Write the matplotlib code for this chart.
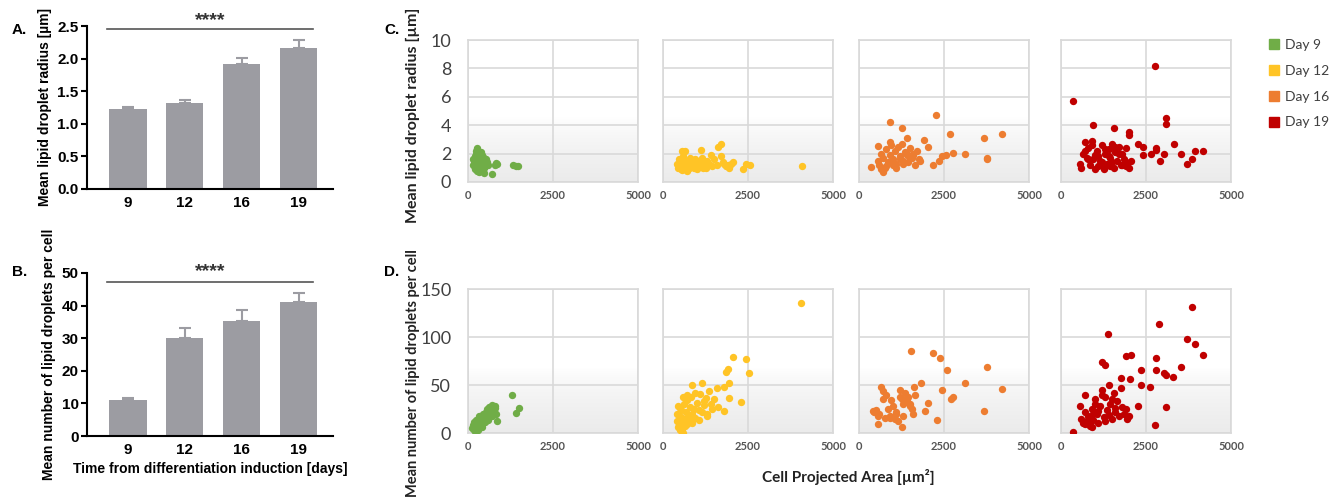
import numpy as np
import matplotlib.pyplot as plt
from matplotlib.patches import Patch
from matplotlib.colors import LinearSegmentedColormap

W, H = 1337, 500

# bar panels A / B
days = ['9', '12', '16', '19']
radius_mean = [1.22, 1.32, 1.91, 2.16]
radius_err = [0.04, 0.05, 0.10, 0.12]
count_mean = [11.0, 30.1, 35.3, 41.0]
count_err = [0.8, 2.9, 3.3, 3.0]

# scatter panels C / D: cell projected area vs radius / count
d9_area_r = [150, 180, 200, 220, 250, 260, 280, 300, 320, 340, 350, 370, 390, 400, 420, 450, 480, 500, 520,
             200, 240, 270, 300, 330, 360, 380, 410, 440, 470, 160, 190, 230, 260, 290, 310, 350, 380, 420, 460,
             500, 550, 600, 250, 300, 350, 270, 330, 700, 780, 820, 860, 1330, 1400, 1480]
d9_radius = [1.2, 1.5, 0.9, 1.8, 2.3, 1.1, 2.1, 1.6, 1.3, 2.0, 0.8, 1.7, 1.4, 1.1, 1.9, 1.5, 1.0, 1.3, 1.6,
             1.0, 2.2, 1.4, 1.9, 0.7, 1.2, 1.8, 0.9, 1.4, 1.7, 1.6, 1.3, 2.0, 0.8, 1.2, 1.5, 1.0, 2.1, 1.6, 0.6,
             1.1, 1.4, 1.2, 1.7, 1.0, 1.5, 2.4, 1.8, 0.55, 1.2, 1.35, 1.3, 1.2, 1.15, 1.1]
d9_area_n = [120, 150, 170, 200, 220, 240, 260, 280, 300, 320, 340, 360, 380, 400, 420, 440, 460, 480, 500, 520,
             540, 560, 580, 600, 620, 650, 680, 700, 720, 750, 780, 800, 820, 850, 200, 250, 300, 350, 400, 450,
             500, 550, 180, 230, 280, 330, 380, 430, 1300, 1420, 1490]
d9_count = [5, 8, 3, 10, 6, 12, 4, 9, 14, 7, 11, 16, 8, 13, 18, 10, 15, 20, 12, 22,
            17, 25, 14, 19, 27, 21, 24, 29, 18, 23, 28, 26, 20, 13, 2, 5, 7, 9, 6, 15,
            11, 16, 11, 14, 3, 18, 10, 20, 40, 21, 26]

d12_area_r = [420, 450, 480, 520, 550, 580, 600, 640, 680, 700, 720, 760, 800, 830, 850, 900, 950, 980, 1000, 1050,
              1080, 1100, 1150, 1200, 1250, 1300, 1350, 1400, 1450, 1500, 1600, 1700, 1750, 1800, 1850, 1900, 1950,
              2000, 2050, 500, 620, 880, 1020, 1180, 1280, 560, 740, 940, 1120, 1620, 1700, 1120, 550, 650,
              2350, 2450, 2550, 4100]
d12_radius = [1.3, 1.0, 1.6, 0.9, 1.4, 1.2, 1.8, 1.1, 1.5, 0.8, 1.3, 1.0, 1.7, 1.2, 1.4, 1.0, 1.6, 1.3, 0.9, 1.5,
              1.1, 1.4, 1.7, 1.2, 1.0, 1.5, 1.3, 1.9, 1.1, 1.6, 1.2, 1.8, 1.4, 1.3, 1.1, 1.2, 1.0,
              1.3, 1.4, 1.1, 1.0, 1.2, 1.1, 1.0, 1.3, 0.85, 0.95, 1.25, 1.35, 2.45, 2.65, 2.25, 2.2, 2.2,
              0.9, 1.3, 1.2, 1.1]
d12_area_n = [400, 420, 450, 480, 500, 520, 540, 560, 580, 600, 620, 650, 680, 700, 720, 750, 780, 800, 830, 860,
              900, 950, 1000, 1050, 1100, 1150, 1200, 1250, 1300, 1350, 1400, 1450, 1500, 450, 550, 650, 750, 850,
              950, 1050, 1200, 1300, 500, 600, 700,
              850, 1150, 1600, 1800, 1950, 1630, 1780, 1950, 2280, 1850, 1900, 2050, 2450, 2530, 4050]
d12_count = [20, 13, 28, 8, 3, 17, 24, 5, 11, 0, 30, 15, 22, 9, 34, 18, 27, 12, 38, 20,
             25, 16, 31, 14, 41, 22, 29, 36, 18, 44, 30, 25, 35, 6, 2, 7, 14, 10,
             42, 24, 33, 20, 26, 37, 40,
             50, 52, 47, 48, 52, 27, 23, 36, 32, 64, 67, 79, 77, 62, 135]

d16_area_r = [2270, 920, 1260, 2680, 3690, 4200, 1410, 1925, 2020, 550, 3110, 2760, 2560, 2440, 2365, 2170, 3750,
              3750, 360, 700,
              550, 600, 650, 700, 750, 800, 850, 900, 950, 1000, 1050, 1100, 1150, 1200, 1250, 1300, 1350, 1400,
              1450, 1500, 1550, 1600, 1650, 1700, 1750, 1800, 650, 800, 1000, 1200, 1400, 1600, 900, 1100, 1300, 1500]
d16_radius = [4.7, 4.2, 3.8, 3.4, 3.1, 3.4, 3.1, 2.95, 2.5, 2.55, 2.0, 2.05, 1.9, 1.85, 1.5, 1.2, 1.7,
              1.6, 1.05, 0.7,
              1.5, 1.2, 2.0, 1.7, 1.0, 2.3, 1.4, 1.9, 2.6, 1.6, 2.2, 1.3, 2.5, 1.8, 2.7, 1.5, 2.1, 2.0,
              1.4, 2.4, 1.7, 1.9, 1.2, 2.2, 1.6, 1.5, 0.9, 1.1, 1.2, 1.6, 1.9, 2.0, 2.8, 1.0, 1.3, 1.7]
d16_area_n = [1515, 2170, 2385, 2590, 3750, 3110, 4220, 2430, 2755, 2700, 2020, 3690, 1935, 2290, 1830, 1630, 570, 1260,
              400, 450, 500, 550, 600, 650, 700, 750, 800, 850, 900, 950, 1000, 1050, 1100, 1150, 1200, 1250,
              1300, 1350, 1400, 1450, 1500, 1550, 1600, 1650, 700, 900, 1100, 1300, 1500, 1200, 1400]
d16_count = [85, 83, 78, 66, 69, 52, 46, 45, 38, 35, 31, 23, 23, 14, 52, 48, 9, 6,
             23, 22, 24, 18, 20, 48, 44, 16, 40, 25, 18, 34, 28, 15, 20, 12, 37, 35,
             30, 42, 33, 38, 28, 25, 20, 40, 35, 16, 22, 18, 30, 45, 32]

d19_area_r = [2775, 345, 3090, 3080, 940, 1570, 2000, 2000, 3310, 2275, 2400, 2785, 2785, 3950, 4175, 3520, 2645,
              2400, 3030, 3850, 3720, 2900, 1910,
              550, 600, 650, 700, 750, 800, 850, 900, 950, 1000, 1050, 1100, 1150, 1200, 1250, 1300, 1350, 1400,
              1450, 1500, 1550, 1600, 1650, 1700, 1750, 1800, 1850, 1900, 1950, 2000, 2050,
              700, 900, 1100, 1300, 1500, 1700, 1900, 800, 1000, 1200, 1400, 1600, 1800, 1250, 1450]
d19_radius = [8.2, 5.7, 4.5, 4.1, 4.0, 3.8, 3.5, 3.3, 2.65, 2.65, 2.5, 2.4, 2.25, 2.2, 2.2, 2.0, 1.95,
              1.9, 1.95, 1.65, 1.3, 1.5, 2.4,
              1.3, 1.0, 2.0, 2.8, 1.7, 2.4, 1.2, 2.9, 1.6, 1.9, 2.2, 1.1, 1.5, 2.6, 0.9, 2.0, 1.3, 2.3,
              1.7, 2.7, 1.0, 2.1, 1.5, 2.5, 1.2, 2.0, 1.6, 1.4, 1.3, 1.0, 1.5,
              2.2, 2.6, 1.8, 2.3, 1.4, 2.0, 1.1, 1.6, 0.9, 1.4, 1.8, 2.5, 1.2, 1.0, 1.1]
d19_area_n = [3845, 2890, 1370, 3705, 3930, 4175, 1900, 2060, 2795, 3520, 2795, 3040, 3080, 2365, 3305, 1210, 1300,
              2625, 2365, 3090, 2775, 345, 2265, 2020, 1765, 705, 550,
              600, 650, 700, 750, 800, 850, 900, 950, 1000, 1050, 1100, 1150, 1200, 1250, 1300, 1350, 1400, 1450,
              1500, 1550, 1600, 1650, 1700, 1750, 1800, 1850, 1900, 1950, 2000,
              700, 800, 900, 1000, 1100, 1200, 1300, 1400, 1500, 1600, 750, 850, 950]
d19_count = [131, 114, 103, 98, 93, 81, 80, 81, 78, 69, 66, 62, 60, 66, 58, 74, 71,
             48, 50, 27, 8, 1, 28, 56, 57, 40, 28,
             15, 10, 22, 12, 18, 8, 25, 14, 35, 20, 10, 28, 45, 17, 38, 24, 50, 30,
             15, 42, 22, 33, 18, 47, 27, 20, 25, 15, 18,
             9, 14, 6, 30, 23, 40, 13, 19, 35, 26, 11, 7, 20]

day_labels = ['Day 9', 'Day 12', 'Day 16', 'Day 19']
day_colors = ['#70ad47', '#ffc426', '#ed7d31', '#c00000']

area_r = [d9_area_r, d12_area_r, d16_area_r, d19_area_r]
radius = [d9_radius, d12_radius, d16_radius, d19_radius]
area_n = [d9_area_n, d12_area_n, d16_area_n, d19_area_n]
count = [d9_count, d12_count, d16_count, d19_count]

bar_color = '#9c9ca2'
arial = 'Liberation Sans'
calibri = 'Lato'

fig = plt.figure(figsize=(W / 100, H / 100), dpi=100)


def px_axes(left, top, right, bottom):
    return fig.add_axes([left / W, 1 - bottom / H, (right - left) / W, (bottom - top) / H])


def bar_panel(ax, means, errs, ymax, yticks, fmt, sig_y, star_y):
    x = np.arange(len(days))
    ax.bar(x, means, width=0.65, color=bar_color, zorder=2)
    ax.errorbar(x, means, yerr=[np.zeros(len(errs)), errs], fmt='none', ecolor=bar_color,
                elinewidth=1.5, capsize=4.5, capthick=1.5, zorder=1)
    ax.set_xlim(-0.72, 3.6)
    ax.set_ylim(0, ymax)
    ax.set_xticks(x)
    ax.set_xticklabels(days)
    ax.set_yticks(yticks)
    ax.set_yticklabels([fmt.format(v) for v in yticks])
    for s in ['top', 'right']:
        ax.spines[s].set_visible(False)
    for s in ['left', 'bottom']:
        ax.spines[s].set_linewidth(1.5)
    ax.tick_params(axis='y', length=4, width=1.5, labelsize=11, pad=2)
    ax.tick_params(axis='x', length=0, labelsize=11, pad=5)
    for lab in ax.get_xticklabels() + ax.get_yticklabels():
        lab.set_fontweight('bold')
        lab.set_family(arial)
    ax.plot([-0.37, 3.25], [sig_y, sig_y], color='#555555', lw=1.2, clip_on=False)
    ax.text(1.44, star_y, '****', ha='center', va='center', fontsize=14, fontweight='bold',
            family=arial, color='#333333', clip_on=False)


axA = px_axes(87, 26, 333, 189)
bar_panel(axA, radius_mean, radius_err, 2.5, np.arange(0, 2.51, 0.5), '{:.1f}', 2.46, 2.58)
axA.set_ylabel('Mean lipid droplet radius [µm]', fontsize=10, fontweight='bold', family=arial, labelpad=4)

axB = px_axes(87, 273, 333, 436)
bar_panel(axB, count_mean, count_err, 50, np.arange(0, 51, 10), '{:.0f}', 47.2, 50.3)
axB.set_ylabel('Mean number of lipid droplets per cell', fontsize=10, fontweight='bold', family=arial, labelpad=4)
axB.set_xlabel('Time from differentiation induction [days]', fontsize=10, fontweight='bold', family=arial,
               labelpad=4)

# background gradient like a spreadsheet chart area
frac = np.linspace(0, 1, 256).reshape(-1, 1)
shade = np.clip((0.45 - frac) / 0.45, 0, 1) ** 0.7
bg_cmap = LinearSegmentedColormap.from_list('bg', ['#ffffff', '#ebebeb'])

lefts = [468, 663, 859, 1061]
rows = [(40, 182, radius, area_r, 10, [0, 2, 4, 6, 8, 10]),
        (289, 433, count, area_n, 150, [0, 50, 100, 150])]

for top, bottom, vals, areas, ymax, yticks in rows:
    for i, left in enumerate(lefts):
        ax = px_axes(left, top, left + 170, bottom)
        ax.imshow(shade, extent=[0, 5000, 0, ymax], aspect='auto', origin='lower', cmap=bg_cmap,
                  vmin=0, vmax=1, zorder=0)
        ax.scatter(areas[i], vals[i], s=28, color=day_colors[i], linewidths=0, zorder=3)
        ax.set_xlim(0, 5000)
        ax.set_ylim(0, ymax)
        ax.set_xticks([0, 2500, 5000])
        ax.set_yticks(yticks)
        ax.grid(color='#d9d9d9', lw=1.2)
        for s in ax.spines.values():
            s.set_color('#d9d9d9')
            s.set_linewidth(1.2)
        ax.tick_params(length=0)
        ax.tick_params(axis='x', labelsize=8, labelcolor='#555555', pad=6)
        ax.tick_params(axis='y', labelsize=13, labelcolor='#404040', pad=12)
        for lab in ax.get_xticklabels():
            lab.set_family(calibri)
            lab.set_fontweight('bold')
        for lab in ax.get_yticklabels():
            lab.set_family(calibri)
        if i > 0:
            ax.tick_params(axis='y', labelleft=False)

fig.text(413 / W, 1 - 115 / H, 'Mean lipid droplet radius [µm]', rotation=90, ha='center', va='center',
         fontsize=11.5, fontweight='bold', family=calibri, color='#222222')
fig.text(413 / W, 1 - 373 / H, 'Mean number of lipid droplets per cell', rotation=90, ha='center', va='center',
         fontsize=10.5, fontweight='bold', family=calibri, color='#222222')
fig.text(848 / W, 1 - 477 / H, 'Cell Projected Area [µm²]', ha='center', va='center',
         fontsize=11, fontweight='bold', family=calibri, color='#222222')

for lab, x, y in [('A.', 12, 30), ('B.', 12, 272), ('C.', 384, 30), ('D.', 384, 272)]:
    fig.text(x / W, 1 - y / H, lab, ha='left', va='center', fontsize=11, fontweight='bold', family=arial)

handles = [Patch(color=c, label=l) for c, l in zip(day_colors, day_labels)]
leg = fig.legend(handles=handles, loc='upper left', bbox_to_anchor=(1266 / W, 1 - 36 / H), frameon=False,
                 handlelength=0.75, handleheight=0.75, handletextpad=0.4, labelspacing=1.0,
                 borderpad=0.2, borderaxespad=0.0, prop={'family': calibri, 'size': 10})
for t in leg.get_texts():
    t.set_color('#404040')

fig.savefig('out.png', dpi=100)
